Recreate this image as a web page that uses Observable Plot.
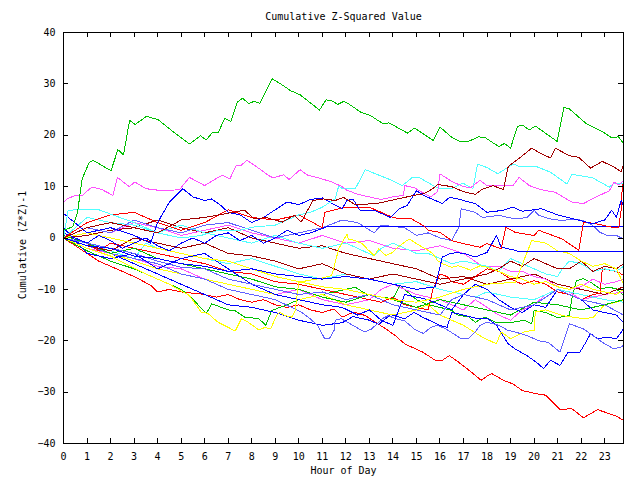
<!DOCTYPE html>
<html><head><meta charset="utf-8">
<script src="https://cdn.jsdelivr.net/npm/d3@7"></script>
<script src="https://cdn.jsdelivr.net/npm/@observablehq/plot@0.6"></script>
<style>html,body{margin:0;background:#fff}svg{display:block}</style>
</head><body><div id="chart"></div>
<script>
const title = "Cumulative Z-Squared Value";
const xLabel = "Hour of Day";
const yLabel = "Cumulative (Z*Z)-1";
const xTicks = [0,1,2,3,4,5,6,7,8,9,10,11,12,13,14,15,16,17,18,19,20,21,22,23];
const yTicks = [-40,-30,-20,-10,0,10,20,30,40];

// each series: [hour, cumulative value]
const green1 = [[0,1.5],[0.4,2.2],[0.6,5],[0.73,9.6],[0.8,11.6],[1.09,14.7],[1.26,15.1],[2.02,13.1],[2.31,17.2],[2.55,16.2],[2.81,22.9],[3.05,22.1],[3.53,23.7],[4.03,23.0],[4.6,20.9],[5.36,18.3],[5.82,19.9],[6.07,19.1],[6.32,20.5],[6.58,20.5],[6.85,23.3],[7.11,22.7],[7.38,26.4],[7.61,27.2],[7.87,26.2],[8.11,26.6],[8.35,26.2],[8.86,31.0],[9.33,29.7],[9.64,28.7],[10.05,27.9],[10.88,24.9],[11.16,26.9],[11.41,26.7],[11.65,26.0],[11.91,26.6],[12.09,26.2],[12.63,24.5],[13.06,23.8],[13.56,22.3],[13.84,22.4],[14.63,20.4],[14.92,21.4],[15.71,19.0],[16.0,21.6],[16.5,19.6],[16.85,18.8],[17.21,18.8],[17.64,19.7],[17.93,19.5],[18.5,17.8],[18.74,18.4],[19.0,17.5],[19.29,21.7],[19.5,22.0],[19.79,21.0],[20.05,21.8],[20.98,18.8],[21.27,25.4],[21.51,25.1],[22.23,22.2],[22.94,20.6],[23.3,19.5],[23.59,19.7],[23.8,18.4]];
const green2 = [[0,0],[1,-2.5],[2,-4.5],[3,-6],[4,-8],[5,-10],[5.35,-11.2],[6.07,-14.7],[6.3,-12.8],[7,-14],[7.28,-14.1],[7.7,-15.4],[8.3,-15.7],[8.6,-17],[8.85,-14.1],[9.5,-13],[10,-12],[11,-11],[12,-10],[12.4,-9.6],[12.9,-11],[13.5,-11.5],[14,-11.8],[14.3,-9.2],[15,-12],[15.5,-13],[16,-13.5],[16.5,-14.1],[16.8,-15.1],[17.2,-15.3],[17.5,-16.4],[17.9,-15.4],[18.4,-16.5],[19.1,-16.4],[19.6,-16],[19.9,-16.7],[20,-14.1],[20.5,-14.5],[21,-15.5],[21.5,-15.1],[21.6,-11.8],[21.8,-8.3],[22.1,-7.9],[22.4,-8.6],[22.8,-9.9],[23.2,-9.6],[23.5,-9.9],[23.8,-11.2]];
const green3 = [[0,0.5],[1,-1],[2,-3],[3,-2],[4,-4],[5,-5],[6,-6],[7,-7],[8,-8],[9,-9.5],[10,-10],[11,-11.5],[12,-12.5],[13,-11],[14,-12],[15,-13.5],[16,-12],[17,-13],[18,-14],[19,-15],[20,-12.5],[21,-13],[22,-14],[23,-13],[23.8,-12]];
const magenta1 = [[0,7],[0.16,7.6],[0.5,8.3],[0.8,8.3],[1.2,9.9],[1.6,9.5],[2.1,8.3],[2.29,11.8],[2.79,10.0],[3.03,10.9],[3.5,9.6],[4.2,9.2],[4.93,9.4],[5.35,11.8],[6.0,10.2],[6.57,11.8],[6.78,12.2],[7.07,11.5],[7.35,14.2],[7.56,14.2],[7.8,15.1],[8.2,13.9],[8.7,12.2],[8.92,11.7],[9.35,12.3],[9.59,11.4],[10.06,13.3],[10.34,12.3],[10.84,11.7],[11.41,10.9],[11.84,10.0],[12.0,9.4],[12.5,8.5],[13.0,8.0],[13.5,7.5],[14.0,8.0],[14.45,8.3],[14.5,10.2],[14.9,9.8],[15.2,9.0],[15.6,8.0],[15.9,9.0],[16.0,12.5],[16.5,11.0],[17.0,10.0],[17.3,9.8],[17.7,11.2],[18.0,10.2],[19.1,10.2],[19.36,11.8],[19.8,10.2],[20.3,9.4],[20.9,8.9],[21.6,7.0],[22.1,6.7],[22.6,7.9],[23.2,9.2],[23.4,10.9],[23.6,10.3],[23.8,11.2]];
const magenta2 = [[0,0],[1,2],[2,1],[3,3],[4,2],[5,0.5],[6,1.5],[7,2.5],[8,1],[9,0],[10,-1],[11,0.5],[12,-1],[13,-0.5],[14,-2],[15,-2.5],[16,-1.5],[17,-3],[17.8,-5.5],[18.5,-5.5],[19,-6.5],[19.5,-6.5],[20,-7.5],[20.5,-8],[21,-9.5],[21.5,-10],[22,-9.5],[22.5,-8],[23,-9],[23.5,-8.5],[23.8,-8]];
const magenta3 = [[0,0],[1,-2],[2,-3],[3,-4],[4,-5.5],[5,-6],[6,-8],[7,-9],[8,-10],[9,-11],[10,-10],[11,-12],[12,-13],[13,-12],[13.5,-10],[14,-9],[15,-11],[16,-12],[17,-14],[17.5,-12],[18,-13.5],[18.5,-15],[19,-16],[19.5,-14],[20,-13],[20.5,-11],[21,-10],[21.5,-10.5],[22,-12],[22.5,-11.5],[23,-11],[23.8,-10.5]];
const cyan1 = [[0,0],[0.2,5.4],[0.6,5.5],[1.5,5.5],[2.15,4.4],[3,3],[4,1],[5,0],[5.85,0.5],[6.6,1.5],[7.5,1.5],[8,2.1],[9,2.5],[10,4.5],[10.5,5],[11,6],[11.55,7.6],[11.7,10.2],[11.84,9.6],[12.4,9.6],[12.83,13.3],[13.26,12.5],[13.97,11.2],[14.4,10.2],[14.83,11.8],[15.1,11.8],[15.6,10.5],[15.97,9.6],[16.5,9.6],[16.97,10.7],[17.4,9.6],[17.6,14.4],[18.0,13.7],[18.46,12.5],[19.1,14.4],[19.4,13.9],[20.1,13.9],[20.7,12.8],[21.4,10.5],[21.6,12.4],[22.5,11.7],[22.8,10.9],[23.2,9.9],[23.4,10.7],[23.8,10.5]];
const cyan2 = [[0,0],[1,4],[2,3],[3,2.5],[4,1],[5,2.5],[6,1],[7,0],[8,-1],[9,0.5],[10,-1],[11,-2],[12,-1],[12.5,-2],[13.2,-3.5],[13.5,-2],[14,-1],[14.5,-2],[15,-3],[15.5,-3],[16,-4],[16.5,-5],[17,-4.5],[17.5,-5],[18,-5.5],[18.5,-6.5],[19,-4],[19.5,-5],[20,-6],[20.5,-7],[21,-7.5],[21.2,-6],[21.5,-4.5],[22,-5],[22.5,-6.5],[23,-6],[23.5,-6.5],[23.8,-5.5]];
const cyan3 = [[0,0],[1,-1],[2,-2.5],[3,-4],[3.5,-1],[4,-2],[5,-3],[6,-4],[7,-5],[8,-4],[9,-5.5],[10,-7],[11,-8],[12,-7],[13,-8],[14,-9],[15,-8.5],[16,-10],[17,-11],[17.5,-11.5],[18,-10.5],[18.5,-11],[19,-11.5],[20,-12],[21,-10],[22,-11],[23,-12],[23.8,-12.5]];
const darkred1 = [[0,0],[1,2],[2,3],[3,2],[4,1],[5,3.5],[6,4],[7.2,5],[7.7,5.4],[8.1,3.7],[8.6,4],[9.3,3.1],[9.8,4.4],[10.1,3.1],[10.6,7.3],[11.05,7.6],[11.55,7.3],[11.9,7.9],[12.4,6.5],[13.3,6.7],[14.2,7.6],[14.9,8.3],[15.3,8.6],[15.7,9.6],[15.9,10.4],[16.5,10],[17,9],[17.5,8.5],[17.8,9.5],[18.25,10.2],[18.7,9.4],[18.9,13.9],[19.5,16],[19.9,17.5],[20.3,16.4],[20.7,15.6],[20.9,17.5],[21.5,16],[21.9,15.7],[22.4,13.6],[22.9,14.9],[23.4,13.8],[23.7,12.9],[23.8,14.3]];
const darkred2 = [[0,0],[1,-1.5],[2,-2.5],[3,0],[4,-1],[5,-2],[6,-1],[7,-3],[8,-3.5],[9,-4.5],[10,-6],[11,-5],[12,-7],[13,-8],[14,-7],[15,-8],[16,-9],[17,-8],[18,-7],[18.5,-6],[19,-4.5],[19.5,-5.5],[20,-4],[20.5,-5],[21,-6],[21.5,-6],[22,-4.5],[22.5,-6.5],[23,-5.5],[23.5,-6],[23.8,-5]];
const darkred3 = [[0,0],[1,0.5],[2,1.5],[3,2],[4,3.5],[5,2],[6,1],[7,2],[8,0],[9,-1],[10,-2],[11,-1.5],[12,-3],[13,-4],[14,-5],[15,-6],[16,-8],[17,-7.5],[18,-9],[19,-8],[20,-7],[21,-9],[22,-10],[23,-11],[23.8,-9.5]];
const red1 = [[0,0],[0.5,-1.5],[1,-3],[1.5,-4.5],[2,-5.5],[2.5,-6.5],[3,-7.5],[3.7,-9.2],[4,-10.5],[4.5,-10],[5,-10.5],[5.85,-10.9],[6.5,-11.5],[7,-11],[7.5,-12],[8,-12.5],[8.5,-12],[9,-13],[9.5,-13.5],[10,-13],[10.5,-14],[11,-14.5],[11.5,-13.8],[11.84,-15.4],[12.34,-14.4],[12.83,-15.1],[13.26,-16.4],[13.7,-17.7],[14.1,-19],[14.5,-20.6],[15.26,-22.2],[15.8,-23.8],[16.1,-23.8],[16.4,-22.9],[16.8,-24.2],[17.25,-25.8],[17.75,-27.7],[18.0,-26.9],[18.2,-26.4],[18.7,-27.7],[19.1,-28.4],[19.5,-29.7],[20.2,-30.4],[20.5,-30.6],[21.1,-33.4],[21.6,-33.2],[22.1,-35],[22.7,-33.4],[23.5,-34.7],[23.8,-35.5]];
const red2 = [[0,0],[1,3],[2,4.5],[3,5],[4,3],[5,1.5],[6,3],[7,5.5],[8,4],[9,3.5],[10,4.5],[11,2],[11.1,5],[12,6],[13,6],[14,4],[14.4,3.7],[14.8,3.7],[15.3,2.4],[15.5,1.5],[16,1.1],[16.5,-0.5],[17,-1.1],[17.7,-1.8],[18,-1.1],[18.6,-2.1],[18.8,2.1],[19.2,1.1],[20,0.5],[20.2,1.5],[21.2,-0.2],[21.9,-2.4],[22.1,3.1],[22.6,2.8],[23.3,2.1],[23.6,2.1],[23.7,5.4],[23.75,10.2],[23.8,10.9]];
const red3 = [[0,0],[1,-1],[1.5,-2.5],[2,-1],[3,-2],[4,-3],[5,-4],[6,-5],[7,-6.5],[8,-7],[9,-8.5],[10,-9],[11,-10],[12,-11],[13,-12],[13.5,-12.5],[14,-11.5],[14.5,-13],[15,-13.5],[15.5,-14],[15.7,-10],[16,-7],[16.3,-7.5],[16.5,-8.5],[17,-9],[17.5,-7.5],[18,-6],[18.5,-6.5],[19,-8],[19.5,-9],[20,-8.3],[20.5,-9],[21,-10.5],[21.5,-11],[22,-12],[22.5,-11],[22.8,-10.8],[22.9,-6],[23.3,-6.3],[23.6,-6.7],[23.8,-7.3]];
const blue1 = [[0,4.8],[1,1],[2,2],[3,0.5],[3.7,-1],[4,3],[4.5,7],[5.07,9.6],[5.5,8],[6,7.3],[6.3,7.6],[6.7,6.3],[7,5],[7.5,4.5],[8,3],[8.5,4],[9,5.5],[9.5,7],[10,6.5],[10.5,7.5],[11,7.8],[11.5,6.5],[11.84,5.7],[12.05,7.3],[12.3,7.6],[12.6,5.4],[13.2,5.4],[13.9,4.0],[14.26,5.7],[14.6,6.3],[15,9.2],[15.3,8.3],[16.1,6.7],[16.4,7.9],[16.75,7.6],[17.5,6.7],[18,5],[18.7,5.4],[19.1,6.0],[19.5,5.2],[20.3,5.7],[21,4.5],[21.7,3.7],[22.5,2.8],[23,3.5],[23.3,5.4],[23.5,4],[23.7,7.3],[23.8,6.3]];
const blue2 = [[0,1],[0.5,0],[1,-1],[1.5,0.5],[2,-0.5],[2.5,-2],[3,-1],[3.5,0],[4,-1.5],[4.5,-2.5],[5,-1],[5.5,0],[6,-1],[6.5,0.5],[7,1],[7.5,-0.5],[8,0.5],[8.5,-1],[9,0],[9.5,1.5],[10,0.5],[10.5,1],[11.2,2.2],[23.8,2.2]];
const blue3 = [[0,0],[1,-1.5],[2,-2],[3,-3.5],[4,-4],[5,-5],[6,-5.5],[7,-6.5],[8,-6],[9,-7],[10,-7.5],[11,-8],[12,-7.5],[13,-8],[14,-9],[15,-10],[15.8,-9.5],[16.1,-3.7],[16.4,-3.1],[16.7,-2.8],[17.1,-3.1],[17.5,-3.7],[18,-2.8],[18.4,0.5],[18.6,-1.8],[19.2,-2.4],[19.3,-2.6],[23.8,-2.6]];
const blue4 = [[0,0],[1,-2],[2,-3],[3,-5],[4,-7],[5,-9],[6,-11],[7,-13],[8,-13.5],[9,-14.5],[10,-16],[11,-17],[11.84,-16.5],[12.3,-15.3],[13.0,-16.0],[13.4,-16.8],[13.9,-14.9],[14.5,-15.7],[14.9,-14.5],[15.3,-15.5],[16.0,-17],[16.3,-17.4],[16.5,-14.5],[17,-15],[17.5,-15.6],[18,-15.6],[18.4,-17],[18.9,-20.6],[19.2,-21.6],[19.7,-22.9],[20.1,-24.2],[20.4,-25.4],[20.7,-23.8],[21.1,-24.8],[21.45,-22.2],[21.95,-22.2],[22.2,-20.3],[22.4,-18.6],[22.7,-19.6],[23.1,-19.3],[23.5,-19.6],[23.8,-17.7]];
const blue5 = [[0,2],[1,-3],[2,-4],[3,-3],[4,-6],[5,-4],[6,-3],[7,-6],[8,-9],[9,-11],[10,-12],[11,-13],[11.84,-13.5],[12.5,-15],[13,-14],[13.5,-16],[14,-17],[14.5,-11],[15,-11.5],[15.5,-12],[16,-13],[16.5,-14],[17,-11],[17.5,-9],[18,-10],[18.5,-12],[19,-13.5],[19.5,-14.5],[20,-13],[20.5,-13.5],[21,-10],[21.5,-11],[22,-12],[22.5,-14],[23,-14.5],[23.5,-15],[23.8,-16.5]];
const yellow1 = [[0,0],[1,-2],[2,-3.5],[2.5,-4.7],[3.5,-7],[4.5,-9],[5.35,-11.2],[5.85,-14.4],[6.14,-14.7],[6.57,-16.4],[7.0,-17.4],[7.3,-18.1],[7.56,-15.7],[7.85,-16.4],[8.3,-17.9],[8.56,-17.4],[8.8,-17.7],[9.06,-15.1],[9.2,-14.4],[9.4,-15.1],[9.7,-15.4],[9.85,-14.1],[10.0,-8.6],[10.5,-8.2],[11.0,-7.8],[11.4,-7.3],[11.7,-2.1],[12.05,0.8],[12.1,-0.2],[12.4,-0.5],[12.7,-1.1],[12.9,-2.1],[13.2,-3.4],[13.4,-2.1],[13.7,-3.4],[14.0,-2.8],[14.2,-1.8],[14.5,-0.8],[14.7,-0.2],[14.9,-0.8],[15.26,-1.8],[15.5,-2.4],[15.7,-3.1],[15.9,-4.4],[16.1,-5.0],[16.5,-5.7],[16.75,-5.4],[17.0,-5.7],[17.3,-6.3],[17.7,-5.4],[18.0,-5.7],[18.5,-6.5],[19,-7.5],[19.5,-8],[20,-9],[20.5,-8.5],[21,-9.5],[21.5,-10],[22,-9],[22.5,-10],[23,-10.5],[23.5,-11],[23.8,-10]];
const yellow2 = [[0,0],[2,-3],[4,-6],[6,-8],[8,-10],[10,-12],[11,-11],[12,-13],[13,-14],[14,-15],[15,-14],[15.5,-13],[16,-15],[17,-17],[17.8,-19.3],[18.4,-20.6],[18.6,-18.3],[19,-19.6],[19.6,-18.2],[20,-18],[20.05,-14.4],[20.5,-14],[21.2,-15.1],[22.1,-15.7],[22.5,-15.5],[23,-13],[23.5,-12.5],[23.8,-12]];
const yellow3 = [[0,0],[1,1],[2,0],[3,-1],[4,-2],[5,-3],[6,-4],[7,-4.5],[8,-6],[9,-7.5],[10,-8.5],[11,-9.5],[12,-10],[13,-11],[14,-12],[15,-12.5],[16,-11.5],[17,-10],[18,-9],[19.2,-8.6],[19.9,-0.5],[20.5,-1],[21,-2.5],[21.5,-3],[22,-4.5],[22.5,-5.5],[23,-5],[23.5,-6],[23.8,-9]];
const slate1 = [[0,0],[1,2],[2,1],[3,3.5],[4,2],[5,1],[6,2.5],[7,3],[8,1.5],[9,0],[10,1],[11,2],[11.84,3.5],[12.5,3],[13.2,1],[13.5,2.5],[14.5,2],[15,0.5],[15.5,1],[16,0],[16.5,-0.5],[16.8,2.1],[16.9,5.7],[17.5,5],[17.8,4],[18.5,4.4],[19.2,3.7],[19.7,4],[20,5.4],[20.2,4.4],[20.7,3.7],[21.2,3.4],[21.7,3.7],[22.1,3.4],[22.5,2.4],[22.8,1.1],[23.1,0.5],[23.5,0.5],[23.8,-0.2]];
const slate2 = [[0,0],[1,-1.5],[2,-3],[3,-4],[4,-5],[5,-7],[6,-8],[7,-10],[8,-11],[9,-12],[10.1,-14.4],[10.4,-15.4],[10.8,-17],[11.1,-19.6],[11.3,-19.6],[11.5,-18],[11.55,-16],[11.8,-15.7],[12.3,-17.0],[12.8,-18.3],[13.1,-17.7],[13.55,-15.7],[13.8,-15.1],[14.1,-15.7],[14.5,-16.1],[14.9,-17.7],[15.3,-18.6],[15.6,-17.4],[15.9,-17.0],[16.25,-17.7],[16.7,-19.0],[16.9,-19.6],[17.2,-19.6],[17.5,-18.3],[17.7,-17.0],[18.0,-16.4],[18.25,-16.7],[18.5,-17.0],[18.9,-18],[19.2,-18.3],[19.7,-19.0],[20.2,-20],[20.6,-20.3],[21.1,-22.2],[21.5,-16.7],[22.1,-17.7],[22.5,-19],[22.9,-20.3],[23.4,-21.6],[23.7,-21.2],[23.8,-20.9]];
const slate3 = [[0,0],[1,-1],[2,-2],[3,-3],[4,-4.5],[5,-5.7],[6,-6],[6.5,-7],[7,-8],[8,-9],[9,-10],[10,-11],[11,-10.5],[12,-12],[13,-11],[14,-13],[15,-14],[16,-15],[16.5,-12],[17,-11],[18,-12],[19,-14],[20,-13],[21,-10],[22,-12],[23,-13],[23.8,-15]];

const RED = "#ff0000", GREEN = "#00c000", BLUE = "#0000ff", MAGENTA = "#ff50ff",
      CYAN = "#50ffff", DARKRED = "#a00000", YELLOW = "#ffff00", SLATE = "#6060ff";

const series = [
  {name: "red1", color: RED, points: red1},
  {name: "green2", color: GREEN, points: green2},
  {name: "blue4", color: BLUE, points: blue4},
  {name: "magenta3", color: MAGENTA, points: magenta3},
  {name: "cyan3", color: CYAN, points: cyan3},
  {name: "darkred3", color: DARKRED, points: darkred3},
  {name: "yellow2", color: YELLOW, points: yellow2},
  {name: "slate2", color: SLATE, points: slate2},
  {name: "red3", color: RED, points: red3},
  {name: "green3", color: GREEN, points: green3},
  {name: "blue5", color: BLUE, points: blue5},
  {name: "magenta2", color: MAGENTA, points: magenta2},
  {name: "cyan2", color: CYAN, points: cyan2},
  {name: "darkred2", color: DARKRED, points: darkred2},
  {name: "yellow1", color: YELLOW, points: yellow1},
  {name: "slate3", color: SLATE, points: slate3},
  {name: "yellow3", color: YELLOW, points: yellow3},
  {name: "slate1", color: SLATE, points: slate1},
  {name: "blue3", color: BLUE, points: blue3},
  {name: "blue2", color: BLUE, points: blue2},
  {name: "red2", color: RED, points: red2},
  {name: "blue1", color: BLUE, points: blue1},
  {name: "cyan1", color: CYAN, points: cyan1},
  {name: "magenta1", color: MAGENTA, points: magenta1},
  {name: "darkred1", color: DARKRED, points: darkred1},
  {name: "green1", color: GREEN, points: green1}
];

const FONT = "'DejaVu Sans Mono', monospace";

const chart = Plot.plot({
  width: 640,
  height: 480,
  marginLeft: 63,
  marginRight: 17,
  marginTop: 32,
  marginBottom: 37,
  style: {fontFamily: FONT, fontSize: "10px", background: "#fff"},
  x: {domain: [0, 23.8], ticks: xTicks},
  y: {domain: [-40, 40], ticks: yTicks},
  marks: [
    ...series.map(s => Plot.line(s.points, {x: d => d[0], y: d => d[1], stroke: s.color, strokeWidth: 1, shapeRendering: "crispEdges"})),
    Plot.frame({stroke: "#000", strokeWidth: 1, shapeRendering: "crispEdges"}),
    Plot.tickY(yTicks, {y: d => d, insetRight: 555, stroke: "#000", shapeRendering: "crispEdges"}),
    Plot.tickY(yTicks, {y: d => d, insetLeft: 555, stroke: "#000", shapeRendering: "crispEdges"}),
    Plot.tickX(xTicks, {x: d => d, insetTop: 406, stroke: "#000", shapeRendering: "crispEdges"}),
    Plot.tickX(xTicks, {x: d => d, insetBottom: 406, stroke: "#000", shapeRendering: "crispEdges"}),
    Plot.axisY(yTicks, {tickSize: 0, tickPadding: 8, label: null, fill: "#000"}),
    Plot.axisX(xTicks, {tickSize: 0, tickPadding: 9, label: null, fill: "#000"}),
    Plot.text([title], {frameAnchor: "top", lineAnchor: "middle", dy: -16, fill: "#000"}),
    Plot.text([xLabel], {frameAnchor: "bottom", lineAnchor: "middle", dy: 27, fill: "#000"}),
    Plot.text([yLabel], {frameAnchor: "left", textAnchor: "middle", lineAnchor: "middle", dx: -41, dy: 7, rotate: -90, fill: "#000"})
  ]
});
document.getElementById("chart").appendChild(chart);
</script>
</body></html>
